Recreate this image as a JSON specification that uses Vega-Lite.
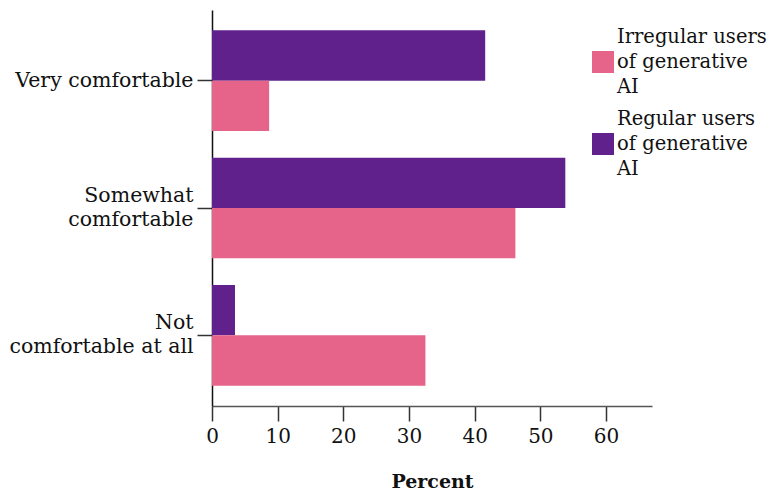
{
  "$schema": "https://vega.github.io/schema/vega-lite/v6.json",
  "autosize": "none",
  "width": 440,
  "height": 396,
  "padding": {"left": 212, "top": 10, "right": 122, "bottom": 90},
  "background": "white",
  "config": {
    "font": "DejaVu Serif",
    "view": {"stroke": null}
  },
  "data": {
    "values": [
      {"category": "Very comfortable", "group": "Regular users of generative AI", "percent": 41.6},
      {"category": "Very comfortable", "group": "Irregular users of generative AI", "percent": 8.7},
      {"category": "Somewhat comfortable", "group": "Regular users of generative AI", "percent": 53.8},
      {"category": "Somewhat comfortable", "group": "Irregular users of generative AI", "percent": 46.2},
      {"category": "Not comfortable at all", "group": "Regular users of generative AI", "percent": 3.5},
      {"category": "Not comfortable at all", "group": "Irregular users of generative AI", "percent": 32.5}
    ]
  },
  "mark": {"type": "bar"},
  "encoding": {
    "y": {
      "field": "category",
      "type": "nominal",
      "sort": ["Very comfortable", "Somewhat comfortable", "Not comfortable at all"],
      "scale": {"paddingInner": 0.21, "paddingOuter": 0.16},
      "axis": {
        "title": null,
        "labelFont": "DejaVu Serif",
        "labelFontSize": 20.5,
        "labelColor": "#111",
        "labelPadding": 4,
        "labelOffset": {"condition": {"test": "datum.value == 'Very comfortable'", "value": 0}, "value": -12},
        "tickSize": 15,
        "tickColor": "#333",
        "tickWidth": 1.5,
        "domainColor": "#111",
        "domainWidth": 1.5,
        "labelLimit": 300,
        "labelLineHeight": 24,
        "labelExpr": "datum.label == 'Somewhat comfortable' ? ['Somewhat', 'comfortable'] : datum.label == 'Not comfortable at all' ? ['Not', 'comfortable at all'] : datum.label"
      }
    },
    "yOffset": {
      "field": "group",
      "type": "nominal",
      "sort": ["Regular users of generative AI", "Irregular users of generative AI"],
      "scale": {"paddingInner": 0, "paddingOuter": 0}
    },
    "x": {
      "field": "percent",
      "type": "quantitative",
      "scale": {"domain": [0, 67], "nice": false},
      "axis": {
        "title": "Percent",
        "titleFont": "DejaVu Serif",
        "titleFontSize": 19,
        "titleFontWeight": "bold",
        "titleColor": "#111",
        "titlePadding": 26,
        "values": [0, 10, 20, 30, 40, 50, 60],
        "labelFont": "DejaVu Serif",
        "labelFontSize": 20,
        "labelColor": "#111",
        "labelPadding": 5,
        "labelFlush": false,
        "tickSize": 15,
        "tickColor": "#333",
        "tickWidth": 1.5,
        "domainColor": "#555",
        "domainWidth": 1.5,
        "grid": false
      }
    },
    "color": {
      "field": "group",
      "type": "nominal",
      "scale": {
        "domain": ["Irregular users of generative AI", "Regular users of generative AI"],
        "range": ["#E6648A", "#61218C"]
      },
      "legend": {
        "title": null,
        "orient": "none",
        "legendX": 380,
        "legendY": 41,
        "symbolType": "square",
        "symbolSize": 484,
        "symbolStrokeWidth": 0,
        "labelFont": "DejaVu Serif",
        "labelFontSize": 19.5,
        "labelColor": "#111",
        "labelLimit": 300,
        "labelOffset": 3,
        "rowPadding": 12,
        "encode": {"labels": {"update": {"lineHeight": {"value": 25}, "dy": {"value": -25}}}},
        "labelExpr": "datum.label == 'Irregular users of generative AI' ? ['Irregular users', 'of generative', 'AI'] : ['Regular users', 'of generative', 'AI']"
      }
    }
  }
}
